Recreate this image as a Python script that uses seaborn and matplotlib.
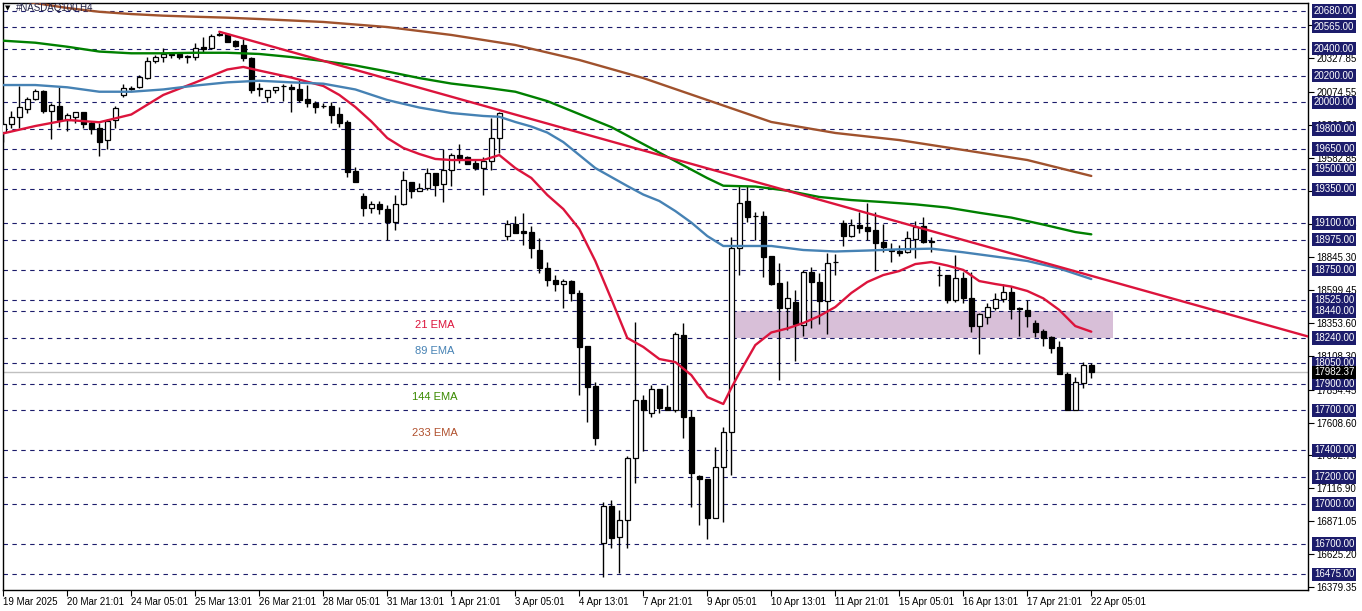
import numpy as np
import pandas as pd
import matplotlib
matplotlib.use("Agg")
import matplotlib.pyplot as plt
import seaborn as sns
from matplotlib.patches import Rectangle

sns.set_theme(style="white")
plt.rcParams['font.family'] = ['Liberation Sans', 'DejaVu Sans']

# ---------------- data (H4 candles, NASDAQ100) ----------------
open_ = [19780, 19838, 19888, 19952, 20027, 20084, 19937, 19972, 19868, 19888,
         19925, 19843, 19806, 19719, 19868, 20055, 20107, 20112, 20184, 20306,
         20336, 20358, 20358, 20340, 20336, 20415, 20408, 20508, 20508, 20458,
         20428, 20331, 20107, 20042, 20090, 20122, 20117, 20099, 20022, 19997,
         19972, 19972, 19913, 19851, 19487, 19300, 19213, 19238, 19201, 19108,
         19238, 19403, 19338, 19362, 19470, 19388, 19494, 19604, 19589, 19545,
         19512, 19564, 19731, 19002, 19091, 19039, 19031, 18897, 18763, 18673,
         18641, 18666, 18574, 18180, 17881, 16707, 16985, 16752, 16881, 17341,
         17777, 17678, 17857, 17722, 17702, 18262, 17648, 17209, 17187, 16898,
         17274, 17536, 18914, 19263, 19151, 19151, 18852, 18648, 18466, 18506,
         18337, 18730, 18656, 18518, 18805, 19096, 19004, 19084, 19067, 19046,
         18955, 18890, 18892, 18880, 18979, 19076, 18959, 18710, 18710, 18524,
         18686, 18536, 18332, 18394, 18466, 18529, 18581, 18466, 18449, 18354,
         18292, 18250, 18175, 17969, 17702, 17906, 18038]
high_ = [19845, 19935, 20122, 20042, 20097, 20090, 19993, 20112, 19918, 19928,
         19930, 19863, 19843, 19878, 19972, 20137, 20124, 20204, 20341, 20353,
         20403, 20366, 20366, 20353, 20445, 20490, 20508, 20527, 20518, 20465,
         20473, 20336, 20142, 20092, 20114, 20137, 20137, 20166, 20129, 20010,
         19993, 20005, 19963, 19868, 19515, 19320, 19265, 19265, 19233, 19308,
         19487, 19405, 19395, 19512, 19472, 19649, 19619, 19689, 19599, 19574,
         19589, 19885, 19930, 19121, 19151, 19171, 19076, 18987, 18807, 18710,
         18680, 18673, 18598, 18182, 17914, 17017, 17030, 16955, 17359, 18362,
         17814, 17889, 17859, 17889, 18287, 18350, 17702, 17217, 17189, 17428,
         17573, 18992, 19375, 19375, 19183, 19188, 18854, 18798, 18666, 18598,
         18748, 18772, 18728, 18877, 18867, 19121, 19126, 19183, 19250, 19183,
         19091, 18947, 18934, 19041, 19116, 19146, 18996, 18778, 18712, 18860,
         18735, 18731, 18429, 18503, 18574, 18641, 18628, 18474, 18524, 18374,
         18305, 18257, 18217, 17984, 17951, 18063, 18051]
low_ = [19703, 19806, 19806, 19918, 20017, 19922, 19728, 19818, 19788, 19843,
        19806, 19763, 19601, 19649, 19806, 20042, 20092, 20105, 20174, 20291,
        20303, 20329, 20321, 20291, 20316, 20373, 20398, 20497, 20450, 20415,
        20311, 20072, 20047, 20000, 20072, 20012, 19930, 20005, 19967, 19922,
        19955, 19843, 19813, 19440, 19407, 19153, 19176, 19164, 18972, 19046,
        19236, 19283, 19335, 19345, 19300, 19258, 19375, 19549, 19539, 19494,
        19308, 19494, 19619, 18972, 19022, 18934, 18837, 18725, 18628, 18591,
        18462, 18518, 17814, 17615, 17441, 16457, 16669, 16483, 16674, 17155,
        17398, 17648, 17677, 17702, 17689, 17491, 16976, 16843, 16737, 16895,
        16868, 17217, 18710, 19108, 18972, 18698, 18636, 17926, 18300, 18070,
        18257, 18312, 18344, 18270, 18710, 18929, 18996, 19022, 18972, 18740,
        18884, 18805, 18852, 18872, 18835, 18952, 18884, 18628, 18503, 18511,
        18503, 18287, 18118, 18342, 18449, 18511, 18380, 18257, 18324, 18250,
        18182, 18130, 17969, 17702, 17700, 17864, 17943]
close_ = [19838, 19888, 19963, 20027, 20084, 19937, 19978, 19868, 19903, 19925,
          19838, 19803, 19706, 19863, 19955, 20105, 20102, 20187, 20308, 20336,
          20358, 20353, 20336, 20342, 20403, 20398, 20497, 20506, 20453, 20423,
          20329, 20092, 20102, 20092, 20114, 20120, 20097, 20017, 19997, 19967,
          19970, 19907, 19848, 19482, 19407, 19213, 19238, 19201, 19108, 19238,
          19420, 19338, 19358, 19470, 19382, 19494, 19604, 19586, 19542, 19512,
          19564, 19731, 19918, 19091, 19026, 19026, 18912, 18763, 18673, 18641,
          18666, 18574, 18175, 17876, 17491, 16985, 16749, 16881, 17341, 17777,
          17702, 17857, 17719, 17702, 18270, 17648, 17234, 17185, 16898, 17274,
          17536, 18914, 19246, 19141, 19150, 18847, 18643, 18466, 18536, 18344,
          18731, 18656, 18518, 18802, 18807, 19004, 19084, 19064, 19041, 18952,
          18922, 18892, 18877, 18984, 19071, 18959, 18961, 18712, 18524, 18686,
          18536, 18332, 18417, 18469, 18529, 18581, 18456, 18454, 18406, 18287,
          18238, 18167, 17969, 17702, 17909, 18038, 17982.37]

x_labels = ["19 Mar 2025", "20 Mar 21:01", "24 Mar 05:01", "25 Mar 13:01",
            "26 Mar 21:01", "28 Mar 05:01", "31 Mar 13:01", "1 Apr 21:01",
            "3 Apr 05:01", "4 Apr 13:01", "7 Apr 21:01", "9 Apr 05:01",
            "10 Apr 13:01", "11 Apr 21:01", "15 Apr 05:01", "16 Apr 13:01",
            "17 Apr 21:01", "22 Apr 05:01"]
x_label_bars = list(range(0, 137, 8))

# EMA readings (bar index, value)
ema21_bar = [0, 4, 8, 12, 16, 20, 24, 28, 30, 32, 36, 40, 42, 44, 46, 48, 50, 52,
             54, 56, 58, 60, 62, 64, 66, 68, 70, 72, 74, 76, 78, 80, 82, 84, 86,
             88, 90, 91, 92, 94, 96, 98, 100, 102, 104, 106, 108, 110, 112, 114,
             116, 118, 120, 122, 124, 126, 128, 130, 132, 134, 136]
ema21_val = [19768, 19823, 19868, 19851, 19909, 20055, 20148, 20245, 20264, 20237,
             20185, 20122, 20055, 19965, 19857, 19733, 19659, 19614, 19577, 19569,
             19569, 19569, 19606, 19509, 19435, 19308, 19203, 19054, 18815, 18531,
             18240, 18173, 18083, 18060, 17963, 17799, 17747, 17866, 17978, 18187,
             18281, 18311, 18352, 18404, 18471, 18576, 18658, 18710, 18740, 18792,
             18807, 18781, 18748, 18665, 18643, 18624, 18591, 18536, 18449, 18329,
             18287]
ema89_bar = [0, 4, 8, 12, 16, 20, 24, 28, 32, 36, 40, 44, 48, 52, 56, 60, 62, 64,
             66, 68, 70, 72, 74, 76, 78, 80, 82, 84, 86, 88, 90, 92, 96, 100, 104,
             108, 112, 116, 120, 124, 128, 132, 136]
ema89_val = [20129, 20129, 20112, 20079, 20079, 20096, 20125, 20149, 20161, 20149,
             20139, 20096, 20017, 19961, 19920, 19898, 19892, 19853, 19819, 19774,
             19703, 19606, 19509, 19442, 19375, 19311, 19263, 19188, 19102, 19001,
             18927, 18927, 18927, 18897, 18886, 18893, 18902, 18907, 18880, 18848,
             18815, 18759, 18680]
ema144_bar = [0, 4, 8, 12, 16, 20, 24, 28, 32, 36, 40, 44, 48, 52, 56, 60, 64, 68,
              72, 76, 80, 84, 88, 90, 94, 98, 102, 106, 110, 114, 118, 122, 126,
              130, 134, 136]
ema144_val = [20460, 20445, 20415, 20379, 20366, 20366, 20370, 20370, 20361, 20338,
              20308, 20275, 20230, 20181, 20140, 20112, 20079, 20009, 19912, 19815,
              19688, 19561, 19434, 19377, 19371, 19340, 19293, 19270, 19255, 19238,
              19214, 19175, 19139, 19087, 19031, 19014]
ema233_bar = [0, 4, 8, 12, 16, 20, 24, 28, 32, 40, 48, 56, 64, 72, 80, 88, 96,
              104, 112, 120, 128, 136]
ema233_val = [20779, 20741, 20704, 20676, 20659, 20647, 20639, 20632, 20622, 20600,
              20562, 20503, 20428, 20316, 20181, 20017, 19853, 19771, 19718, 19644,
              19569, 19450]

# trend line anchors and zone
trend_bars = [27, 163.1]
trend_vals = [20527, 18251]
zone_bars = [91.3, 138.7]
zone_vals = [18240, 18440]

levels = [20680, 20565, 20400, 20200, 20000, 19800, 19650, 19500, 19350, 19100,
          18975, 18750, 18525, 18440, 18240, 18050, 17900, 17700, 17400, 17200,
          17000, 16700, 16475]
axis_ticks = [16379.35, 16625.20, 16871.05, 17116.90, 17362.75, 17608.60, 17854.45,
              18108.30, 18353.60, 18599.45, 18845.30, 19091.15, 19337.00, 19582.85,
              19828.70, 20074.55, 20327.85, 20573.70]
current_price = 17982.37

# ---------------- figure ----------------
fig = plt.figure(figsize=(13.62, 6.11), dpi=100)
ax = fig.add_axes([3 / 1362, 21 / 611, 1305 / 1362, 587 / 611])
ax.set_facecolor("white")

navy = "#1c1c6b"

# zone
ax.add_patch(Rectangle((zone_bars[0], zone_vals[0]), zone_bars[1] - zone_bars[0],
                       zone_vals[1] - zone_vals[0], facecolor="#d8bfd8",
                       edgecolor="none", zorder=0.5))

for lv in levels:
    ax.axhline(lv, color=navy, lw=0.8, ls=(0, (4, 4)), zorder=1)

ax.axhline(current_price, color="#c0c0c0", lw=1, zorder=1.2)

# candles
bars = np.arange(len(open_))
o = np.array(open_, dtype=float)
c = np.array(close_, dtype=float)
h = np.array(high_, dtype=float)
l = np.array(low_, dtype=float)
bull = c >= o
ax.vlines(bars, l, h, color="black", lw=1.0, zorder=3)
body_bottom = np.minimum(o, c)
body_h = np.maximum(np.abs(c - o), 4)
ax.bar(bars, body_h, bottom=body_bottom, width=0.62,
       color=np.where(bull, "white", "black"), edgecolor="black", linewidth=0.9,
       zorder=4)

# EMAs with seaborn
frames = []
for name, bx, vy in [("21 EMA", ema21_bar, ema21_val), ("89 EMA", ema89_bar, ema89_val),
                     ("144 EMA", ema144_bar, ema144_val), ("233 EMA", ema233_bar, ema233_val)]:
    frames.append(pd.DataFrame({"bar": bx, "value": vy, "ema": name}))
ema_df = pd.concat(frames, ignore_index=True)
palette = {"21 EMA": "#dc143c", "89 EMA": "#4682b4", "144 EMA": "#008000",
           "233 EMA": "#a0522d"}
sns.lineplot(data=ema_df, x="bar", y="value", hue="ema", palette=palette,
             estimator=None, sort=False, legend=False, linewidth=1.7, ax=ax,
             zorder=5)

# trend line
ax.plot(trend_bars, trend_vals, color="#dc143c", lw=1.7, zorder=5)

ax.set_xlim(-0.04, 163.09)
ax.set_ylim(16357.9, 20741.6)

# EMA text labels
for txt, yy, col in [("21 EMA", 0.4515, "#dc143c"), ("89 EMA", 0.4072, "#4682b4"),
                     ("144 EMA", 0.3288, "#3a8a00"), ("233 EMA", 0.2675, "#b0502d")]:
    ax.text(0.331, yy, txt, transform=ax.transAxes, ha="center", va="center",
            fontsize=8, color=col, zorder=6)

# title
ax.text(0.0015, 0.9915, "\u25bc", transform=ax.transAxes, ha="left", va="center",
        fontsize=5, color="black", family="DejaVu Sans", zorder=6)
ax.text(0.010, 0.9915, "#NASDAQ100,H4", transform=ax.transAxes, ha="left",
        va="center", fontsize=7, color="#222244", zorder=6)

# axes
ax.set_xticks(x_label_bars)
ax.set_xticklabels(x_labels, ha="left")
ax.set_yticks(axis_ticks)
ax.set_yticklabels([f"{v:.2f}" for v in axis_ticks])
ax.yaxis.tick_right()
ax.tick_params(axis="y", which="both", right=True, left=False, length=4, width=0.8,
               direction="out", pad=2, labelsize=7, colors="black")
ax.tick_params(axis="x", which="both", bottom=True, length=4, width=0.8,
               direction="out", pad=1, labelsize=7, colors="black")
ax.set_xlabel("")
ax.set_ylabel("")
for sp in ax.spines.values():
    sp.set_visible(True)
    sp.set_color("black")
    sp.set_linewidth(1)

# level price boxes
for lv in levels:
    ax.annotate(f"{lv:.2f}", xy=(1, lv), xycoords=("axes fraction", "data"),
                xytext=(6, 0), textcoords="offset pixels", ha="left", va="center",
                fontsize=7, color="white", annotation_clip=False, zorder=10,
                bbox=dict(boxstyle="square,pad=0.18", fc=navy, ec="none"))
ax.annotate(f"{current_price:.2f}", xy=(1, current_price),
            xycoords=("axes fraction", "data"), xytext=(6, 0),
            textcoords="offset pixels", ha="left", va="center", fontsize=7,
            color="white", annotation_clip=False, zorder=11,
            bbox=dict(boxstyle="square,pad=0.18", fc="black", ec="none"))

fig.savefig("out.png", dpi=100, facecolor="white")
